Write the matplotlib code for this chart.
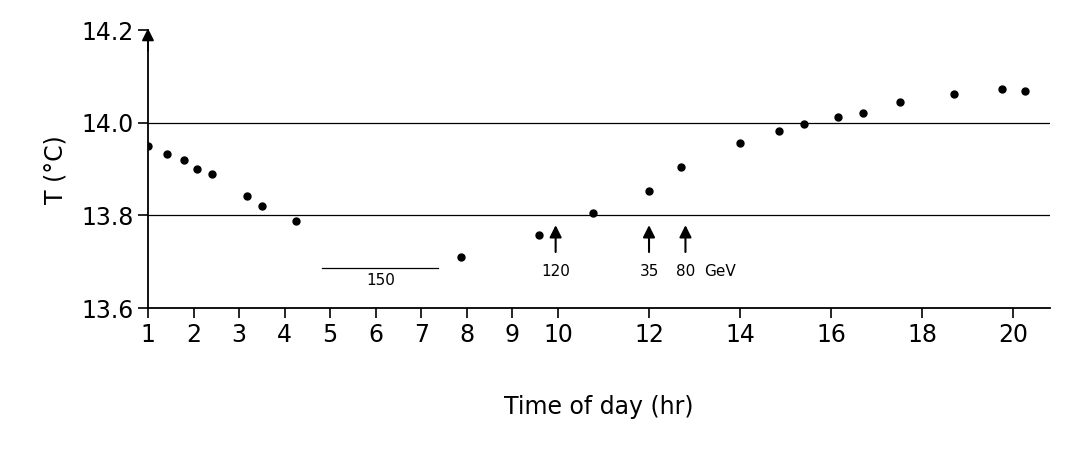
import numpy as np
import matplotlib.pyplot as plt

hours = [1.0, 1.42, 1.79, 2.07, 2.4, 3.18, 3.51, 4.25, 7.88, 9.58, 10.76, 12.0,
         12.7, 14.0, 14.85, 15.4, 16.15, 16.7, 17.5, 18.7, 19.75, 20.25]
temps = [13.95, 13.933, 13.92, 13.90, 13.89, 13.842, 13.82, 13.787, 13.71, 13.757,
         13.806, 13.852, 13.905, 13.956, 13.982, 13.997, 14.012, 14.022, 14.045,
         14.063, 14.073, 14.068]
xticks = [1, 2, 3, 4, 5, 6, 7, 8, 9, 10, 12, 14, 16, 18, 20]
yticks = [13.6, 13.8, 14.0, 14.2]
arrows = [(9.95, "120"), (12.0, "35"), (12.8, "80")]

fig = plt.figure(figsize=(10.84, 4.51), dpi=100)
ax = fig.add_axes([0.1365, 0.317, 0.832, 0.616])
ax.plot(hours, temps, "o", color="black", ms=5)
for yv in [13.8, 14.0]:
    ax.axhline(yv, color="black", lw=0.9)
ax.set_xlim(1, 20.8)
ax.set_ylim(13.6, 14.2)
ax.set_xticks(xticks)
ax.set_yticks(yticks)
ax.set_yticklabels(["13.6", "13.8", "14.0", "14.2"])
ax.tick_params(labelsize=17, direction="out", length=7, width=1.2)
for s in ["top", "right"]:
    ax.spines[s].set_visible(False)
ax.spines["left"].set_linewidth(1.3)
ax.spines["bottom"].set_linewidth(1.3)
ax.annotate("", xy=(1, 14.21), xytext=(1, 14.15), xycoords="data",
            arrowprops=dict(arrowstyle="-|>", color="black", lw=1.3, mutation_scale=18),
            annotation_clip=False)

for xa, lab in arrows:
    ax.annotate("", xy=(xa, 13.785), xytext=(xa, 13.715),
                arrowprops=dict(arrowstyle="-|>", color="black", lw=1.5, mutation_scale=18))
    ax.text(xa, 13.695, lab, ha="center", va="top", fontsize=11)
ax.text(13.2, 13.695, "GeV", ha="left", va="top", fontsize=11)
ax.plot([4.82, 7.37], [13.686, 13.686], color="black", lw=0.9)
ax.text(6.1, 13.675, "150", ha="center", va="top", fontsize=11)

ax.set_xlabel("Time of day (hr)", fontsize=17, labelpad=35)
ax.set_ylabel("T (°C)", fontsize=17, labelpad=10)
fig.savefig("out.png")
